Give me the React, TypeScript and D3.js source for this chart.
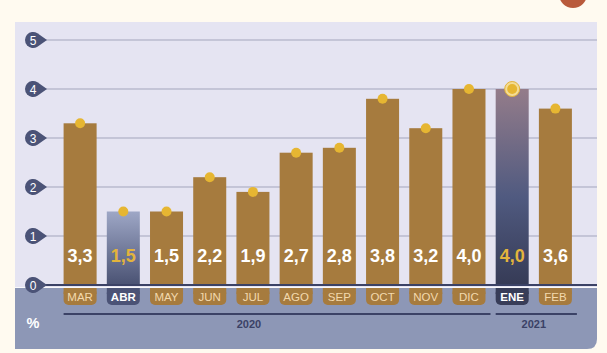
import React from "react";
import * as d3 from "d3";

const months = ["MAR", "ABR", "MAY", "JUN", "JUL", "AGO", "SEP", "OCT", "NOV", "DIC", "ENE", "FEB"];
const values = [3.3, 1.5, 1.5, 2.2, 1.9, 2.7, 2.8, 3.8, 3.2, 4.0, 4.0, 3.6];
const highlight = ["ABR", "ENE"];
const yTicks = [0, 1, 2, 3, 4, 5];
const years = [
  { label: "2020", from: "MAR", to: "DIC" },
  { label: "2021", from: "ENE", to: "FEB" },
];

const W = 607;
const H = 353;
const FONT = "'Liberation Sans', Arial, Helvetica, sans-serif";

export default function App() {
  const x = d3
    .scaleBand<string>()
    .domain(months)
    .range([58.5, 577])
    .paddingInner(0.236)
    .paddingOuter(0.118);
  const y = d3.scaleLinear().domain([0, 5]).range([285, 40]);
  const bw = x.bandwidth();
  const fmt = (v: number) => v.toFixed(1).replace(".", ",");

  const panelL = 15;
  const panelR = 597;
  const panelT = 22;
  const bandT = 288;
  const bandB = 349;

  return (
    <svg
      width={W}
      height={H}
      style={{ position: "absolute", left: 0, top: 0, display: "block" }}
      fontFamily={FONT}
    >
      <defs>
        <linearGradient id="gABR" x1="0" y1="0" x2="0" y2="1">
          <stop offset="0%" stopColor="#9ea7c6" />
          <stop offset="100%" stopColor="#4a5273" />
        </linearGradient>
        <linearGradient id="gENE" x1="0" y1="0" x2="0" y2="1">
          <stop offset="0%" stopColor="#947c8a" />
          <stop offset="55%" stopColor="#505a80" />
          <stop offset="100%" stopColor="#363b56" />
        </linearGradient>
      </defs>
      <rect x={0} y={0} width={W} height={H} fill="#fffaf0" />
      <circle cx={573} cy={-6} r={14} fill="#b95a3c" />
      {/* panel */}
      <rect x={panelL} y={panelT} width={panelR - panelL} height={bandT - panelT} fill="#e5e4f2" />
      <path
        d={`M${panelL},${bandT} H${panelR} V${bandB - 10} Q${panelR},${bandB} ${panelR - 10},${bandB} H${panelL} Z`}
        fill="#8d97b6"
      />
      <line x1={panelL} x2={panelR} y1={bandT - 0.5} y2={bandT - 0.5} stroke="#ffffff" strokeWidth={1} opacity={0.8} />
      {/* gridlines */}
      {yTicks.slice(1).map((t) => (
        <line key={t} x1={40} x2={panelR} y1={y(t)} y2={y(t)} stroke="#a3a5bc" strokeWidth={1} />
      ))}
      {/* bars */}
      {months.map((m, i) => {
        const hl = highlight.includes(m);
        const fill = m === "ABR" ? "url(#gABR)" : m === "ENE" ? "url(#gENE)" : "#a67b3e";
        return (
          <g key={m}>
            <rect x={x(m)} y={y(values[i])} width={bw} height={y(0) - y(values[i])} fill={fill} />
            <text
              x={(x(m) as number) + bw / 2}
              y={262}
              textAnchor="middle"
              fontSize={18}
              fontWeight="bold"
              fill={hl ? "#e3b43c" : "#ffffff"}
            >
              {fmt(values[i])}
            </text>
          </g>
        );
      })}
      {/* dots */}
      {months.map((m, i) => {
        const cx = (x(m) as number) + bw / 2;
        const cy = y(values[i]);
        return (
          <g key={m}>
            {m === "ENE" && (
              <circle cx={cx} cy={cy} r={7.5} fill="#f3dc95" stroke="#e2b23a" strokeWidth={1} />
            )}
            <circle cx={cx} cy={cy} r={5} fill="#e6b632" />
          </g>
        );
      })}
      {/* x axis line */}
      <line x1={40} x2={panelR} y1={y(0)} y2={y(0)} stroke="#3b4266" strokeWidth={2} />
      {/* y ticks markers */}
      {yTicks.map((t) => {
        const cy = y(t);
        const cx = 33;
        const r = 8;
        const a = Math.PI / 3.2;
        return (
          <g key={t}>
            <path
              d={`M${cx + r * Math.cos(a)},${cy - r * Math.sin(a)} A${r},${r} 0 1 0 ${cx + r * Math.cos(a)},${cy + r * Math.sin(a)} L${cx + 14},${cy} Z`}
              fill="#4b5377"
            />
            <text x={cx} y={cy + 4.5} textAnchor="middle" fontSize={12} fill="#ffffff">
              {t}
            </text>
          </g>
        );
      })}
      {/* month pills */}
      {months.map((m) => {
        const hl = highlight.includes(m);
        const px = x(m) as number;
        const fill = m === "ABR" ? "#4b5376" : m === "ENE" ? "#383d58" : "#a67b3e";
        return (
          <g key={m}>
            <rect x={px} y={288} width={bw} height={17} rx={5} fill={fill} />
            <rect x={px} y={288} width={bw} height={6} fill={fill} />
            <text
              x={px + bw / 2}
              y={300.5}
              textAnchor="middle"
              fontSize={11.5}
              fontWeight={hl ? "bold" : "normal"}
              fill={hl ? "#ffffff" : "#f3d9ad"}
            >
              {m}
            </text>
          </g>
        );
      })}
      {/* years */}
      {years.map((yr) => {
        const x1 = x(yr.from) as number;
        const x2 = (x(yr.to) as number) + bw;
        const cx = yr.label === "2020" ? (x("JUL") as number) + bw / 2 - 4 : (x1 + x2) / 2;
        return (
          <g key={yr.label}>
            <line x1={x1} x2={x2 + 5} y1={314} y2={314} stroke="#3b4266" strokeWidth={2} />
            <text x={cx} y={328} textAnchor="middle" fontSize={11} fontWeight="bold" fill="#3b4266">
              {yr.label}
            </text>
          </g>
        );
      })}
      <text x={33} y={328} textAnchor="middle" fontSize={14.5} fontWeight="bold" fill="#ffffff">
        %
      </text>
    </svg>
  );
}
